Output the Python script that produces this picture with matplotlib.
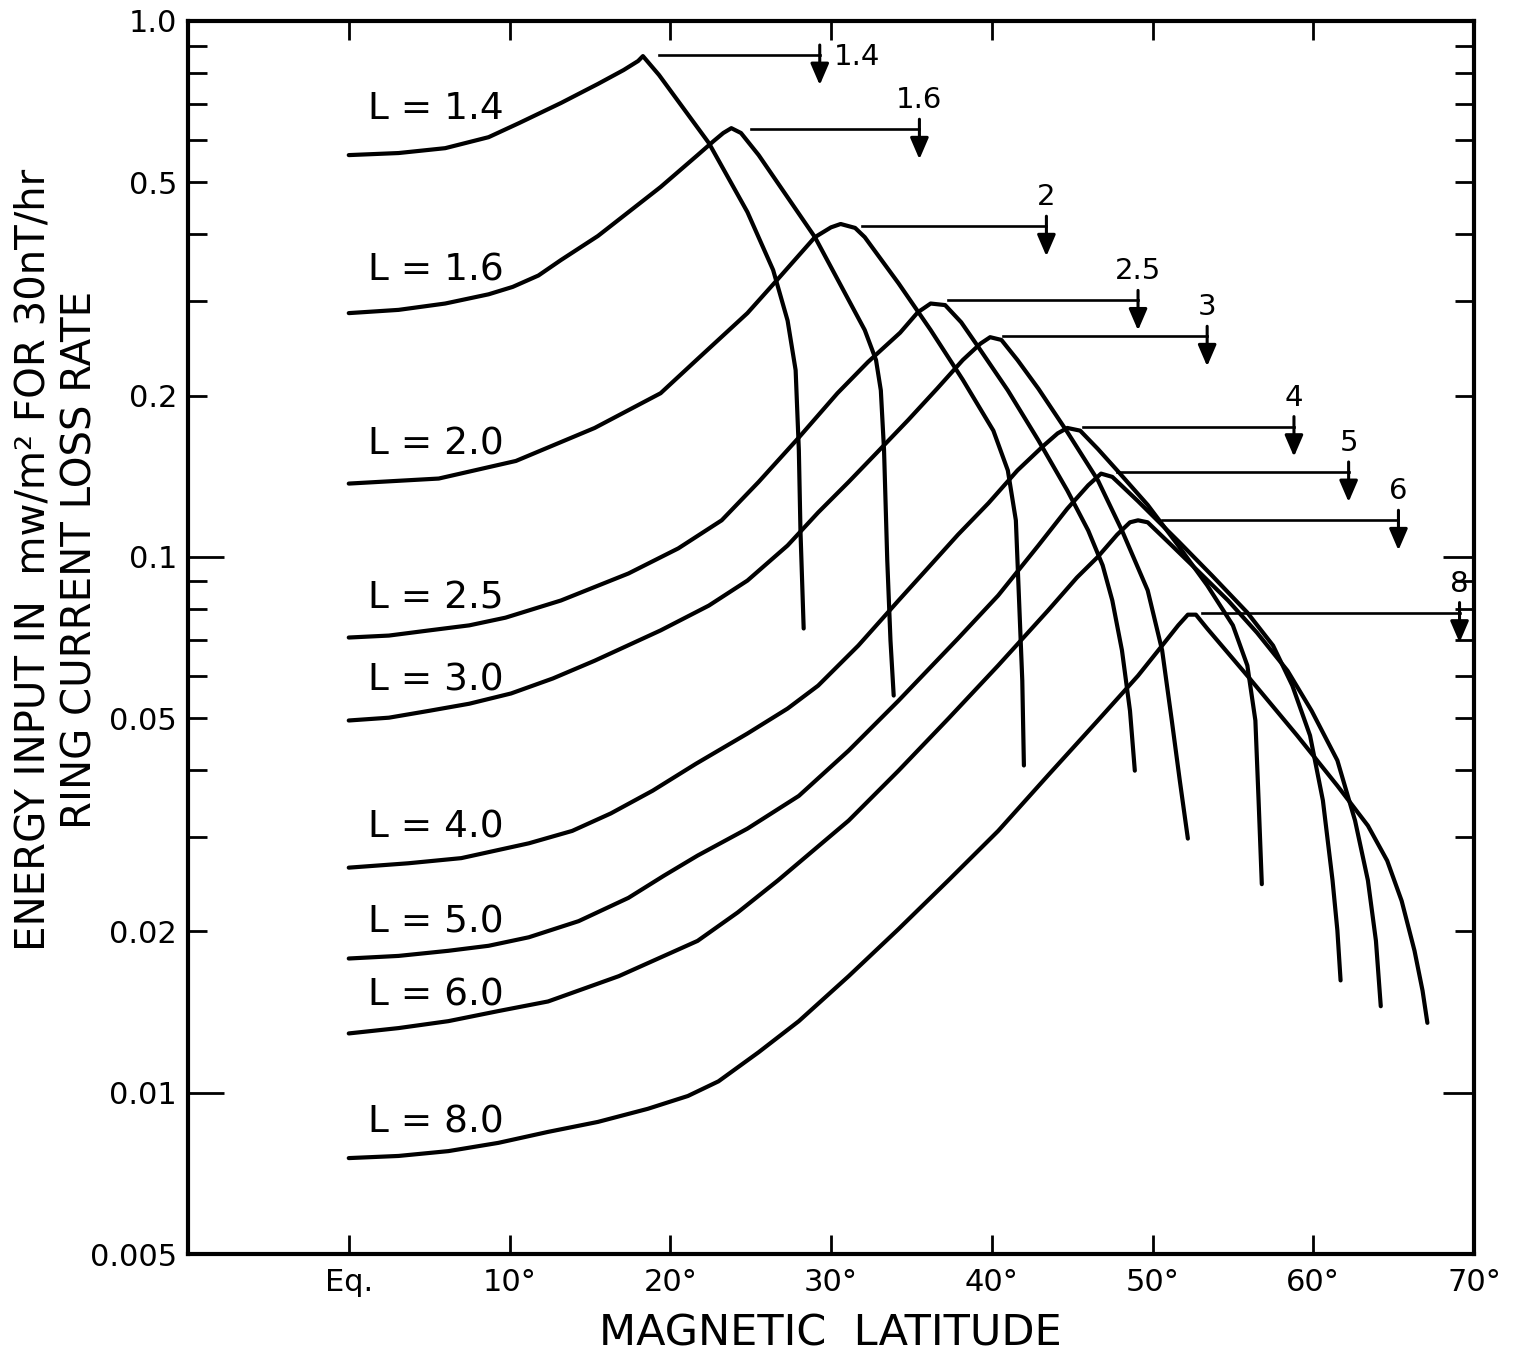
import numpy as np
import matplotlib
matplotlib.use('Agg')
import matplotlib.pyplot as plt
from matplotlib.transforms import offset_copy

plt.rcParams['font.family'] = ['DejaVu Sans']

# ---------------- data (magnetic latitude in degrees, energy input mW/m^2) -------------
lat_14 = [0, 3.1, 6.0, 8.7, 10.6, 13.2, 15.5, 17.1, 18.0, 18.3, 19.3, 22.4, 24.8, 26.4,
          27.3, 27.8, 28.0, 28.1, 28.3]
val_14 = [0.562, 0.567, 0.579, 0.607, 0.645, 0.703, 0.763, 0.810, 0.842, 0.860, 0.793,
          0.592, 0.440, 0.343, 0.276, 0.223, 0.158, 0.112, 0.0735]

lat_16 = [0, 3.1, 6.0, 8.7, 10.2, 11.8, 13.2, 15.5, 19.4, 21.7, 22.7, 23.3, 23.8, 24.4,
          25.5, 29.0, 32.1, 32.8, 33.1, 33.3, 33.5, 33.7, 33.9]
val_16 = [0.285, 0.289, 0.297, 0.309, 0.319, 0.335, 0.358, 0.397, 0.490, 0.562, 0.597,
          0.618, 0.631, 0.618, 0.562, 0.395, 0.265, 0.233, 0.2045, 0.158, 0.0985, 0.0698,
          0.0551]

lat_20 = [0, 5.6, 10.4, 15.3, 19.4, 21.7, 24.8, 26.7, 29.0, 30.0, 30.6, 31.5, 32.1, 34.2,
          36.2, 38.2, 40.1, 41.0, 41.5, 41.7, 41.9, 42.0]
val_20 = [0.137, 0.140, 0.151, 0.174, 0.202, 0.234, 0.285, 0.330, 0.395, 0.412, 0.418,
          0.411, 0.395, 0.324, 0.265, 0.214, 0.172, 0.145, 0.117, 0.0829, 0.0587, 0.0408]

lat_25 = [0, 2.5, 5.0, 7.5, 9.75, 13.2, 17.4, 20.5, 23.2, 25.5, 28.0, 30.4, 32.3, 34.3,
          35.4, 36.2, 37.1, 38.1, 39.1, 41.0, 42.9, 44.7, 46.0, 46.9, 47.5, 48.1, 48.6, 48.9]
val_25 = [0.0707, 0.0713, 0.0729, 0.0745, 0.0770, 0.0829, 0.0931, 0.1037, 0.117, 0.138,
          0.167, 0.202, 0.231, 0.262, 0.286, 0.297, 0.295, 0.274, 0.248, 0.2045, 0.165,
          0.133, 0.112, 0.0964, 0.0829, 0.0669, 0.0516, 0.0399]

lat_30 = [0, 2.5, 5.0, 7.5, 10.1, 12.7, 15.3, 19.4, 22.4, 24.8, 27.3, 29.2, 31.1, 32.9,
          34.8, 36.6, 38.2, 39.3, 39.9, 40.6, 41.6, 42.9, 44.7, 46.6, 48.1, 49.7, 50.6,
          51.2, 51.7, 52.2]
val_30 = [0.0495, 0.0501, 0.0516, 0.0532, 0.0556, 0.0593, 0.0640, 0.0729, 0.0811, 0.0903,
          0.105, 0.121, 0.138, 0.157, 0.180, 0.206, 0.233, 0.250, 0.257, 0.254, 0.233,
          0.206, 0.171, 0.139, 0.112, 0.0866, 0.0669, 0.0495, 0.0382, 0.0298]

lat_40 = [0, 3.7, 7.0, 11.2, 13.9, 16.3, 18.9, 21.6, 24.8, 27.3, 29.2, 31.7, 34.2, 36.0,
          37.9, 39.8, 41.6, 43.2, 44.1, 44.7, 45.5, 46.6, 47.8, 49.7, 51.6, 53.4, 55.0,
          55.9, 56.4, 56.6, 56.8]
val_40 = [0.0263, 0.0268, 0.0274, 0.0292, 0.0308, 0.0332, 0.0366, 0.0411, 0.0468, 0.0521,
          0.0575, 0.0683, 0.0829, 0.0951, 0.110, 0.126, 0.145, 0.161, 0.170, 0.174, 0.172,
          0.159, 0.145, 0.125, 0.105, 0.0885, 0.0745, 0.0627, 0.0495, 0.0351, 0.0245]

lat_50 = [0, 3.1, 6.2, 8.7, 11.2, 14.3, 17.4, 19.6, 21.7, 24.8, 28.0, 31.1, 34.2, 37.9,
          40.4, 42.9, 44.7, 46.0, 46.8, 47.5, 49.1, 51.6, 53.7, 55.9, 57.5, 58.7, 59.8,
          60.6, 61.2, 61.5, 61.7]
val_50 = [0.0178, 0.0180, 0.0184, 0.0188, 0.0195, 0.0209, 0.0231, 0.0254, 0.0277, 0.0311,
          0.0358, 0.0435, 0.0539, 0.0704, 0.0847, 0.105, 0.123, 0.136, 0.143, 0.141, 0.127,
          0.107, 0.0923, 0.0787, 0.0683, 0.0575, 0.0464, 0.0351, 0.0249, 0.0201, 0.0162]

lat_60 = [0, 3.1, 6.2, 9.3, 12.4, 16.8, 21.7, 24.2, 26.7, 31.1, 34.2, 37.3, 40.4, 43.5,
          45.3, 46.6, 47.8, 48.6, 49.1, 49.7, 51.2, 52.8, 54.7, 56.5, 58.4, 59.9, 61.5,
          62.6, 63.4, 63.9, 64.2]
val_60 = [0.0129, 0.0132, 0.0136, 0.0142, 0.0148, 0.0165, 0.0192, 0.0217, 0.0249, 0.0322,
          0.0399, 0.0499, 0.0627, 0.0794, 0.0915, 0.100, 0.110, 0.116, 0.117, 0.116, 0.105,
          0.0943, 0.0829, 0.0722, 0.0613, 0.0516, 0.0417, 0.0322, 0.0249, 0.0192, 0.0145]

lat_80 = [0, 3.1, 6.2, 9.3, 12.4, 15.5, 18.6, 21.1, 23.0, 25.5, 28.0, 31.1, 34.2, 37.3,
          40.4, 43.5, 46.6, 49.1, 50.6, 51.6, 52.2, 52.7, 53.4, 55.9, 59.0, 61.5, 63.4,
          64.6, 65.5, 66.3, 66.8, 67.1]
val_80 = [0.00755, 0.00762, 0.00778, 0.00806, 0.00845, 0.00882, 0.00933, 0.00986, 0.0105,
          0.0119, 0.0136, 0.0165, 0.0202, 0.0249, 0.0308, 0.0391, 0.0495, 0.0600, 0.0683,
          0.0745, 0.0780, 0.0780, 0.0735, 0.0600, 0.0464, 0.0374, 0.0315, 0.0271, 0.0228,
          0.0184, 0.0155, 0.0135]

curve_lats = [lat_14, lat_16, lat_20, lat_25, lat_30, lat_40, lat_50, lat_60, lat_80]
curve_vals = [val_14, val_16, val_20, val_25, val_30, val_40, val_50, val_60, val_80]

shell_labels = ['L = 1.4', 'L = 1.6', 'L = 2.0', 'L = 2.5', 'L = 3.0',
                'L = 4.0', 'L = 5.0', 'L = 6.0', 'L = 8.0']
shell_label_val = [0.685, 0.343, 0.162, 0.0836, 0.0588, 0.0312, 0.0208, 0.0152, 0.00878]

arrow_names = ['1.4', '1.6', '2', '2.5', '3', '4', '5', '6', '8']
arrow_lat = [29.3, 35.5, 43.4, 49.1, 53.4, 58.8, 62.2, 65.3, 69.1]
arrow_start = [19.3, 25.0, 31.9, 37.3, 40.7, 45.7, 47.8, 50.6, 53.1]
arrow_level = [0.864, 0.628, 0.414, 0.301, 0.258, 0.175, 0.144, 0.117, 0.0787]

x_ticks = [0, 10, 20, 30, 40, 50, 60, 70]
x_ticklabels = ['Eq.', '10°', '20°', '30°', '40°', '50°', '60°', '70°']
y_major = [1.0, 0.5, 0.2, 0.1, 0.05, 0.02, 0.01, 0.005]
y_major_labels = ['1.0', '0.5', '0.2', '0.1', '0.05', '0.02', '0.01', '0.005']
y_minor = [0.9, 0.8, 0.7, 0.6, 0.4, 0.3, 0.09, 0.08, 0.07, 0.06, 0.04, 0.03]

# ---------------- figure ----------------
W, H = 1517, 1357
fig = plt.figure(figsize=(W / 100, H / 100), dpi=100)
ax = fig.add_axes([188 / W, 1 - 1254 / H, (1474 - 188) / W, (1254 - 21) / H])

ax.set_yscale('log')
ax.set_xlim(-10, 70)
ax.set_ylim(0.005, 1.0)

for lats, vals in zip(curve_lats, curve_vals):
    ax.plot(lats, vals, color='black', lw=3.0, solid_joinstyle='round',
            solid_capstyle='round')

for lab, yv in zip(shell_labels, shell_label_val):
    ax.text(1.2, yv, lab, fontsize=27, ha='left', va='center')

# arrows
tip_tr = offset_copy(ax.transData, fig=fig, x=0, y=-30, units='dots')
for name, xa, xs, yl in zip(arrow_names, arrow_lat, arrow_start, arrow_level):
    ax.plot([xs, xa], [yl, yl], color='black', lw=1.9)
    ax.annotate('', xy=(xa, yl), xycoords=tip_tr,
                xytext=(0, 40), textcoords='offset pixels',
                arrowprops=dict(arrowstyle='-|>,head_length=0.65,head_width=0.28',
                                lw=2.2, color='black', shrinkA=0, shrinkB=0,
                                mutation_scale=20))
    if name == '1.4':
        ax.annotate(name, xy=(xa, yl), xytext=(37, -2), textcoords='offset pixels',
                    ha='center', va='center', fontsize=21)
    else:
        ax.annotate(name, xy=(xa, yl), xytext=(0, 29), textcoords='offset pixels',
                    ha='center', va='center', fontsize=21)

# ticks
ax.set_xticks(x_ticks)
ax.set_xticklabels(x_ticklabels)
ax.tick_params(axis='x', which='major', direction='in', length=14, width=2,
               top=True, labeltop=False, pad=10, labelsize=22)
ax.set_yticks(y_major)
ax.set_yticklabels(y_major_labels)
ax.set_yticks(y_minor, minor=True)
ax.yaxis.set_minor_formatter(matplotlib.ticker.NullFormatter())
ax.tick_params(axis='y', which='both', direction='in', length=14, width=2,
               right=True, labelsize=22, pad=8)
ax.xaxis.set_minor_locator(matplotlib.ticker.NullLocator())
majt = ax.yaxis.get_major_ticks()
for i in (3, 6):
    majt[i].tick1line.set_markersize(26)
    majt[i].tick2line.set_markersize(22)

for s in ax.spines.values():
    s.set_linewidth(3)

fig.text(57 / W, 1 - 560 / H,
         'ENERGY INPUT IN  mw/m² FOR 30nT/hr\nRING CURRENT LOSS RATE',
         rotation=90, ha='center', va='center', multialignment='center',
         linespacing=1.25, fontsize=29)
fig.text(830 / W, 1 - 1333 / H, 'MAGNETIC  LATITUDE', ha='center', va='center',
         fontsize=31)

fig.savefig('out.png', dpi=100, facecolor='white')
